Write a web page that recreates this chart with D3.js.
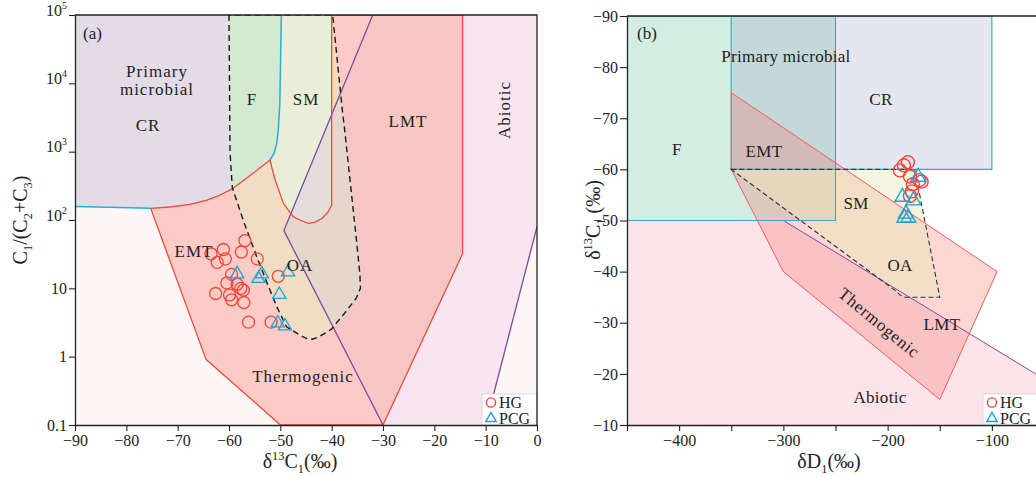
<!DOCTYPE html>
<html>
<head>
<meta charset="utf-8">
<script src="https://cdn.jsdelivr.net/npm/d3@7"></script>
<style>
  body { margin: 0; background: #fff; }
  svg { display: block; font-family: "Liberation Serif", "Times New Roman", serif; }
  svg text { font-family: "Liberation Serif", "Times New Roman", serif; }
</style>
</head>
<body>
<svg id="chart" width="1036" height="477"></svg>
<script>
// ---------- Panel (a): δ13C1 vs C1/(C2+C3) ----------
const hgA = [[-56.9,50],[-61.1,37],[-63.5,32],[-57.6,34],[-60.7,27],[-62.3,24],[-54.5,27],
  [-50.4,15],[-59.5,16],[-60.4,12],[-58.4,11.5],[-57.7,10],[-57.2,9.4],[-62.6,8.4],
  [-59.9,8],[-59.5,6.8],[-57.1,6.2],[-56.2,3.2],[-51.8,3.2]];
const pcgA = [[-58.4,16.2],[-54.25,13.9],[-53.6,16.2],[-48.5,17.3],[-50.2,8.1],[-50.5,3.1],[-49.1,2.8]];

const xTicksA = [-90,-80,-70,-60,-50,-40,-30,-20,-10,0];
const yTicksA = [0.1,1,10,100,1e3,1e4,1e5];

// genetic fields, [δ13C1, C1/(C2+C3)]
const emtTopA = [[-75.25,148],[-71.5,155],[-67.6,169],[-64.3,196],[-61.75,232],[-59.2,291],[-55.5,471],[-52,755]];
const smCupA = [[-51.6,560],[-51,385],[-49.4,175],[-47.5,112],[-46.2,100],[-44.55,89],[-43.2,93],[-41.9,105],[-40.7,131],[-40,166],[-40,1e5]];
const microEdgeA = [[-52,755],[-51.2,950],[-50.7,1325],[-50.4,2070],[-50.1,5000],[-49.8,1e5]];
const microBaseA = [[-90,157],[-75.25,148]];
const thermoRestA = [[-14.5,1e5],[-14.5,32],[-30,0.1],[-50,0.1],[-64.5,0.92]];
const abioA = [[-32,1e5],[-49.3,70],[-30,0.1],[-10,0.1],[0,80],[0,1e5]];
const abioLeftA = [[-32,1e5],[-49.3,70],[-30,0.1]];
const abioRightA = [[-10,0.1],[0,80]];
const oaA = [[-60,1e5],[-59.8,1000],[-59.35,295],[-57,89],[-54.6,29],[-52.3,10.6],[-50.7,5.4],
  [-48.8,2.74],[-46.2,2.07],[-45,1.86],[-43.8,1.8],[-42.5,1.95],[-40.1,2.5],[-37.4,4.4],
  [-35.2,7.2],[-34.4,10],[-34.5,16],[-35.1,45],[-37.4,1860],[-38,4550],[-39.8,1e5]];
const fLeftA = [[-59.35,295],[-59.8,1000],[-60,1e5]];

// ---------- Panel (b): δD1 vs δ13C1 ----------
const hgB = [[-180.6,-61.4],[-184.4,-60.8],[-188.2,-59.8],[-178.6,-58.6],[-169.5,-57.9],
  [-175.8,-57.1],[-167.4,-57.6],[-176.7,-55.7],[-178.6,-54.8]];
const pcgB = [[-170.7,-58.5],[-185.8,-54.6],[-175.3,-53.9],[-183.9,-50.5],[-180.1,-50.5],[-182.5,-51.3]];

const xTicksB = [-450,-400,-350,-300,-250,-200,-150,-100,-50];
const yTicksB = [-90,-80,-70,-60,-50,-40,-30,-20,-10];

const fB = [[-450,-90],[-250,-90],[-250,-50],[-450,-50]];
const crB = [[-350,-90],[-100,-90],[-100,-60],[-350,-60]];
const thermoB = [[-350,-75],[-95,-40],[-150,-15],[-300,-40],[-350,-60]];
const oaB = [[-350,-60],[-174,-60],[-150,-35],[-183,-35],[-188,-35.4],[-192,-36.2]];
const abioB = [[-450,-50],[-300,-50],[-50,-19],[-50,-10],[-450,-10]];
const abioLineB = [[-450,-50],[-300,-50],[-50,-19]];

// ---------- colours ----------
const RED = "#f0483a", BLUE = "#22b0de", PURPLE = "#7a4c9c", PT_RED = "#f2453a", PT_BLUE = "#1ba3d6";

const svg = d3.select("#chart");
const defs = svg.append("defs");
const addClip = (id, d) => defs.append("clipPath").attr("id", id).append("path").attr("d", d);

function rich(sel, parts, base) {
  let off = 0;
  parts.forEach(([s, kind]) => {
    const target = kind === "sup" ? -base * 0.42 : kind === "sub" ? base * 0.25 : 0;
    sel.append("tspan").attr("dy", target - off)
      .attr("font-size", kind === "n" ? base : base * 0.62).text(s);
    off = target;
  });
}

// ================= Panel (a) =================
const xa = d3.scaleLinear().domain([-90, 0]).range([75, 537]);
const ya = d3.scaleLog().domain([0.1, 1e5]).range([425, 15]);
const lineA = d3.line().x(d => xa(d[0])).y(d => ya(d[1]));
const shapeA = pts => lineA(pts) + "Z";

const thermoA = [...emtTopA, ...smCupA, ...thermoRestA];
const smA = [...microEdgeA.slice().reverse(), ...smCupA];
const primA = [[-90,1e5], ...microEdgeA.slice().reverse(), ...emtTopA.slice().reverse(), [-90,157]];
const fA = [[-60,1e5], ...microEdgeA.slice().reverse(), [-55.5,471], ...fLeftA];

addClip("plotA", `M${xa(-90)},${ya(1e5)}H${xa(0)}V${ya(0.1)}H${xa(-90)}Z`);
addClip("thermoA", shapeA(thermoA));
addClip("abioA", shapeA(abioA));

const gA = svg.append("g").attr("clip-path", "url(#plotA)");
gA.append("rect").attr("x", xa(-90)).attr("y", ya(1e5))
  .attr("width", xa(0) - xa(-90)).attr("height", ya(0.1) - ya(1e5)).attr("fill", "#fdf8f7");
gA.append("path").attr("d", shapeA(abioA)).attr("fill", "#f9e5f0");
gA.append("path").attr("d", shapeA(thermoA)).attr("fill", "#fdcbc6");
gA.append("g").attr("clip-path", "url(#abioA)")
  .append("path").attr("d", shapeA(thermoA)).attr("fill", "#f5c6c3");
const oaIn = gA.append("g").attr("clip-path", "url(#thermoA)");
oaIn.append("path").attr("d", shapeA(oaA)).attr("fill", "#f3dcc4");
oaIn.append("g").attr("clip-path", "url(#abioA)")
  .append("path").attr("d", shapeA(oaA)).attr("fill", "#e6d7cc");
gA.append("path").attr("d", shapeA(smA)).attr("fill", "#eaeed8");
gA.append("g").attr("clip-path", "url(#abioA)")
  .append("path").attr("d", shapeA(smA)).attr("fill", "#e5dcdc");
gA.append("path").attr("d", shapeA(primA)).attr("fill", "#e3dbe6");
gA.append("path").attr("d", shapeA(fA)).attr("fill", "#d4e8d2");

// field boundaries
const strokeA = (pts, color, closed, w = 1.3) => gA.append("path")
  .attr("d", closed ? shapeA(pts) : lineA(pts)).attr("fill", "none")
  .attr("stroke", color).attr("stroke-width", w).attr("stroke-linejoin", "round");
strokeA(abioLeftA, PURPLE, false);
strokeA(abioRightA, PURPLE, false);
strokeA(thermoA, RED, true);
strokeA(microBaseA, BLUE, false, 1.5);
strokeA(microEdgeA, BLUE, false, 1.5);
strokeA(oaA, "#1a1a1a", true, 1.4).attr("stroke-dasharray", "6,4");

// field names
const labA = (x, y, t, extra) => {
  const s = svg.append("text").attr("x", x).attr("y", y).attr("text-anchor", "middle")
    .attr("font-size", 17).attr("letter-spacing", 1).attr("fill", "#222").text(t);
  if (extra) extra(s);
  return s;
};
svg.append("text").attr("x", 83).attr("y", 39).attr("font-size", 17).attr("fill", "#222").text("(a)");
labA(157, 77, "Primary");
labA(157, 95, "microbial");
labA(148, 131, "CR");
labA(252, 105, "F");
labA(306, 105, "SM");
labA(408, 127, "LMT");
labA(504, 110, "Abiotic", s => s.attr("dominant-baseline", "central").attr("transform", "rotate(-90,504,110)"));
labA(194, 257, "EMT");
labA(300, 271, "OA");
labA(303, 382, "Thermogenic");

// samples
const tri = d3.symbol(d3.symbolTriangle);
gA.append("g").selectAll("circle").data(hgA).join("circle")
  .attr("cx", d => xa(d[0])).attr("cy", d => ya(d[1])).attr("r", 6)
  .attr("fill", "none").attr("stroke", PT_RED).attr("stroke-width", 1.3);
gA.append("g").selectAll("path").data(pcgA).join("path")
  .attr("d", tri.size(75)()).attr("transform", d => `translate(${xa(d[0])},${ya(d[1])})`)
  .attr("fill", "none").attr("stroke", PT_BLUE).attr("stroke-width", 1.3);

// legend
function legend(x, y, w) {
  const g = svg.append("g");
  g.append("rect").attr("x", x).attr("y", y).attr("width", w).attr("height", 31)
    .attr("fill", "#fff").attr("stroke", "#cfcfcf").attr("stroke-width", 0.8);
  g.append("circle").attr("cx", x + 9).attr("cy", y + 8.5).attr("r", 4.6)
    .attr("fill", "none").attr("stroke", PT_RED).attr("stroke-width", 1.4);
  g.append("path").attr("d", d3.symbol(d3.symbolTriangle, 48)())
    .attr("transform", `translate(${x + 9},${y + 24.5})`)
    .attr("fill", "none").attr("stroke", PT_BLUE).attr("stroke-width", 1.4);
  g.append("text").attr("x", x + 17).attr("y", y + 13.5).attr("font-size", 16).attr("fill", "#222").text("HG");
  g.append("text").attr("x", x + 17).attr("y", y + 29.5).attr("font-size", 16).attr("fill", "#222").text("PCG");
}
legend(482, 394, 55);

// axes
const fmt = d3.format("d");
svg.append("g").attr("transform", `translate(0,${ya(0.1)})`)
  .call(d3.axisBottom(xa).tickValues(xTicksA).tickSize(6).tickSizeOuter(0).tickPadding(4).tickFormat(fmt));
const ayA = svg.append("g").attr("transform", `translate(${xa(-90)},0)`)
  .call(d3.axisLeft(ya).tickValues(yTicksA).tickSize(6).tickSizeOuter(0).tickFormat(""));
ayA.selectAll(".tick").each(function (v) {
  const t = d3.select(this).append("text").attr("x", -8).attr("dy", "0.32em")
    .attr("text-anchor", "end").attr("fill", "#222").attr("font-size", 16);
  if (v >= 100) rich(t, [["10", "n"], [String(Math.round(Math.log10(v))), "sup"]], 16);
  else t.text(v === 0.1 ? "0.1" : String(v));
});
svg.append("path").attr("d", `M${xa(-90)},${ya(1e5)}H${xa(0)}V${ya(0.1)}`)
  .attr("fill", "none").attr("stroke", "#222").attr("stroke-width", 1.3);

// axis titles
rich(svg.append("text").attr("x", 300).attr("y", 468).attr("text-anchor", "middle").attr("fill", "#222"),
  [["δ", "n"], ["13", "sup"], ["C", "n"], ["1", "sub"], ["(‰)", "n"]], 20);
rich(svg.append("text").attr("transform", "translate(27,220) rotate(-90)").attr("text-anchor", "middle").attr("fill", "#222"),
  [["C", "n"], ["1", "sub"], ["/(C", "n"], ["2", "sub"], ["+C", "n"], ["3", "sub"], [")", "n"]], 20);

// ================= Panel (b) =================
const xb = d3.scaleLinear().domain([-450, -50]).range([627, 1044]);
const yb = d3.scaleLinear().domain([-90, -10]).range([16, 425]);
const lineB = d3.line().x(d => xb(d[0])).y(d => yb(d[1]));
const shapeB = pts => lineB(pts) + "Z";

addClip("plotB", `M${xb(-450)},${yb(-90)}H${xb(-50)}V${yb(-10)}H${xb(-450)}Z`);
const gB = svg.append("g").attr("clip-path", "url(#plotB)");
gB.append("path").attr("d", shapeB(abioB)).attr("fill", "#fde4ea");
gB.append("path").attr("d", shapeB(fB)).attr("fill", "rgb(165,219,197)").attr("fill-opacity", 0.5);
gB.append("path").attr("d", shapeB(crB)).attr("fill", "rgb(141,141,187)").attr("fill-opacity", 0.22);
gB.append("path").attr("d", shapeB(thermoB)).attr("fill", "rgb(250,115,110)").attr("fill-opacity", 0.3);
gB.append("path").attr("d", shapeB(oaB)).attr("fill", "rgb(235,233,186)").attr("fill-opacity", 0.45);

const strokeB = (pts, color, closed, w = 1) => gB.append("path")
  .attr("d", closed ? shapeB(pts) : lineB(pts)).attr("fill", "none")
  .attr("stroke", color).attr("stroke-width", w);
strokeB(abioLineB, PURPLE, false);
strokeB(fB, "#3ba6c6", true, 1.1);
strokeB(crB, "#3ba6c6", true, 1.1);
strokeB(thermoB, "#f25c5c", true, 1);
strokeB(oaB, "#333", true, 1.1).attr("stroke-dasharray", "5,3");

const labB = (x, y, t) => svg.append("text").attr("x", x).attr("y", y).attr("text-anchor", "middle")
  .attr("font-size", 17).attr("letter-spacing", 0.3).attr("fill", "#222").text(t);
svg.append("text").attr("x", 637).attr("y", 39).attr("font-size", 17).attr("fill", "#222").text("(b)");
labB(786, 62, "Primary microbial");
labB(881, 105, "CR");
labB(677, 155, "F");
labB(764, 157, "EMT");
labB(856, 209, "SM");
labB(900, 271, "OA");
labB(942, 330, "LMT");
labB(880, 403, "Abiotic");
labB(879, 323, "Thermogenic").attr("dominant-baseline", "central")
  .attr("letter-spacing", 0.8).attr("transform", "rotate(39.5,879,323)");

gB.append("g").selectAll("circle").data(hgB).join("circle")
  .attr("cx", d => xb(d[0])).attr("cy", d => yb(d[1])).attr("r", 6.5)
  .attr("fill", "none").attr("stroke", PT_RED).attr("stroke-width", 1.4);
gB.append("g").selectAll("path").data(pcgB).join("path")
  .attr("d", tri.size(95)()).attr("transform", d => `translate(${xb(d[0])},${yb(d[1])})`)
  .attr("fill", "none").attr("stroke", PT_BLUE).attr("stroke-width", 1.4);

legend(983, 394, 70);

svg.append("g").attr("transform", `translate(0,${yb(-10)})`)
  .call(d3.axisBottom(xb).tickValues(xTicksB).tickSize(6).tickSizeOuter(0).tickPadding(4)
    .tickFormat(d => d % 100 === 0 ? fmt(d) : ""));
svg.append("g").attr("transform", `translate(${xb(-450)},0)`)
  .call(d3.axisLeft(yb).tickValues(yTicksB).tickSize(7).tickSizeOuter(0).tickPadding(2).tickFormat(fmt));
svg.append("path").attr("d", `M${xb(-450)},${yb(-90)}H${xb(-50)}`)
  .attr("fill", "none").attr("stroke", "#222").attr("stroke-width", 1.3);

rich(svg.append("text").attr("x", 829).attr("y", 468).attr("text-anchor", "middle").attr("fill", "#222"),
  [["δD", "n"], ["1", "sub"], ["(‰)", "n"]], 20);
rich(svg.append("text").attr("transform", "translate(600,220) rotate(-90)").attr("text-anchor", "middle").attr("fill", "#222"),
  [["δ", "n"], ["13", "sup"], ["C", "n"], ["1", "sub"], [" (‰)", "n"]], 20);

// shared axis styling
svg.selectAll(".domain").attr("stroke", "#222").attr("stroke-width", 1.3);
svg.selectAll(".tick line").attr("stroke", "#222").attr("stroke-width", 1.1);
svg.selectAll(".tick text").attr("font-size", 16).attr("fill", "#222");
</script>
</body>
</html>
